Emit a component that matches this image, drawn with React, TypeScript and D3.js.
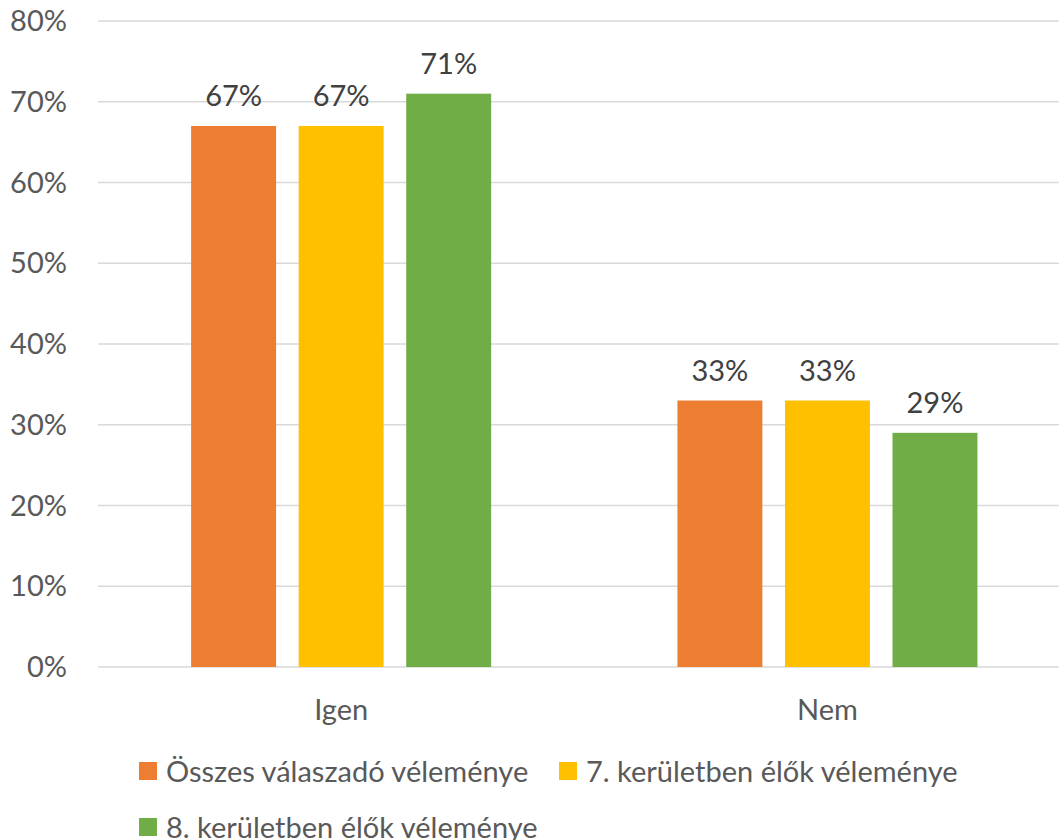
import React from "react";
import * as d3 from "d3";

const categories = ["Igen", "Nem"];
const seriesNames = [
  "Összes válaszadó véleménye",
  "7. kerületben élők véleménye",
  "8. kerületben élők véleménye",
];
const seriesColors = ["#ED7D31", "#FFC000", "#70AD47"];
const osszesValues = [67, 33];
const hetedikValues = [67, 33];
const nyolcadikValues = [71, 29];
const yTicks = [0, 10, 20, 30, 40, 50, 60, 70, 80];

const W = 1059;
const H = 840;
const FONT = "Lato, 'Open Sans', sans-serif";
const FS = 29;

export default function App() {
  const seriesValues = [osszesValues, hetedikValues, nyolcadikValues];
  const y = d3.scaleLinear().domain([0, 80]).range([667, 21]);
  const x0 = d3
    .scaleBand<string>()
    .domain(categories)
    .range([98, 1070.6])
    .paddingInner(0.383)
    .paddingOuter(0.1915);
  const x1 = d3
    .scaleBand<string>()
    .domain(seriesNames)
    .range([0, x0.bandwidth()])
    .paddingInner(0.21)
    .paddingOuter(0);

  const legendItems = [
    { x: 139, y: 762, name: seriesNames[0], color: seriesColors[0] },
    { x: 559, y: 762, name: seriesNames[1], color: seriesColors[1] },
    { x: 139, y: 818, name: seriesNames[2], color: seriesColors[2] },
  ];

  return (
    <svg
      width={W}
      height={H}
      style={{ position: "absolute", left: 0, top: 0, background: "#fff" }}
      fontFamily={FONT}
    >
      <rect width={W} height={H} fill="#fff" />
      {yTicks.map((t) => (
        <g key={t}>
          <line x1={98} x2={W} y1={y(t)} y2={y(t)} stroke="#D9D9D9" strokeWidth={1.5} />
          <text
            x={67}
            y={y(t)}
            dy="0.35em"
            textAnchor="end"
            fontSize={FS}
            fill="#595959"
          >
            {t}%
          </text>
        </g>
      ))}
      {categories.map((c, ci) => (
        <g key={c} transform={`translate(${x0(c)},0)`}>
          {seriesNames.map((s, si) => {
            const v = seriesValues[si][ci];
            const bx = x1(s) as number;
            return (
              <g key={s}>
                <rect
                  x={bx}
                  y={y(v)}
                  width={x1.bandwidth()}
                  height={y(0) - y(v)}
                  fill={seriesColors[si]}
                />
                <text
                  x={bx + x1.bandwidth() / 2}
                  y={y(v) - 20}
                  textAnchor="middle"
                  fontSize={FS}
                  fill="#404040"
                >
                  {v}%
                </text>
              </g>
            );
          })}
          <text
            x={x0.bandwidth() / 2}
            y={720}
            textAnchor="middle"
            fontSize={FS}
            fill="#595959"
          >
            {c}
          </text>
        </g>
      ))}
      {legendItems.map((l) => (
        <g key={l.name}>
          <rect x={l.x} y={l.y} width={18} height={18} fill={l.color} />
          <text x={l.x + 27} y={l.y + 20} fontSize={FS} fill="#595959">
            {l.name}
          </text>
        </g>
      ))}
    </svg>
  );
}
